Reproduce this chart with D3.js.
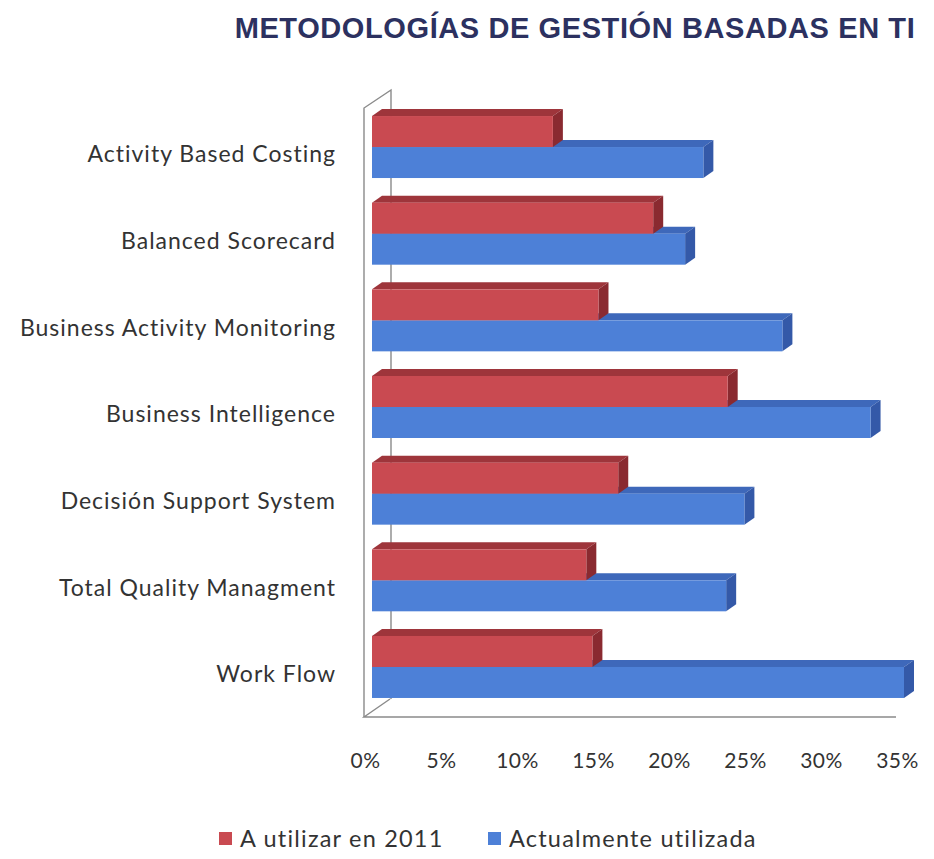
<!DOCTYPE html>
<html>
<head>
<meta charset="utf-8">
<script src="https://cdn.jsdelivr.net/npm/d3@7/dist/d3.min.js"></script>
<style>
  html, body { margin: 0; padding: 0; background: #ffffff; }
  svg { display: block; }
</style>
</head>
<body>
<svg id="chart" width="934" height="859"></svg>
<script>
// Methodology names, top to bottom
const categories = [
  "Activity Based Costing",
  "Balanced Scorecard",
  "Business Activity Monitoring",
  "Business Intelligence",
  "Decisión Support System",
  "Total Quality Managment",
  "Work Flow"
];
// Percent of respondents
const plan2011 = [11.9, 18.5, 14.9, 23.4, 16.2, 14.1, 14.5];
const currentUse = [21.8, 20.6, 27.0, 32.8, 24.5, 23.3, 35.0];
const seriesNames = ["A utilizar en 2011", "Actualmente utilizada"];
const tickValues = [0, 5, 10, 15, 20, 25, 30, 35];

const palette = {
  red:  { front: "#C94A51", top: "#9E353B", side: "#8A2A30" },
  blue: { front: "#4D80D7", top: "#3E68BA", side: "#3459A8" }
};

const svg = d3.select("#chart");

// Layout of the 3D plot box
const floorX = 364, floorY = 717;     // front-left corner of the floor
const barX = 372;                     // bars start a little way into the depth
const wallDX = 27, wallDY = -18;      // full depth of the box
const barDX = 10, barDY = -7;         // depth of each bar
const plotTop = 108;

const x = d3.scaleLinear().domain([0, 35]).range([0, 532]);
const y = d3.scaleBand().domain(categories).range([103.7, 710.3]).padding(0);
const inner = d3.scaleBand().domain(seriesNames).range([-31, 31]).padding(0);

const labelFont = "Lato, 'Open Sans', sans-serif";

// Title
svg.append("text")
  .attr("x", 575).attr("y", 38)
  .attr("text-anchor", "middle")
  .attr("font-family", "'Liberation Sans', Arial, sans-serif")
  .attr("font-weight", "bold")
  .attr("font-size", 29)
  .attr("letter-spacing", 0.6)
  .attr("fill", "#2C3160")
  .text("METODOLOGÍAS DE GESTIÓN BASADAS EN TI");

// Walls and floor edges
const frame = svg.append("g")
  .attr("fill", "none")
  .attr("stroke", "#8a8a8a")
  .attr("stroke-width", 1.4);
frame.append("path").attr("d", d3.line()([
  [floorX, floorY], [floorX, plotTop], [floorX + wallDX, plotTop + wallDY], [floorX + wallDX, floorY + wallDY]
]));
frame.append("path").attr("d", d3.line()([
  [floorX + wallDX - 1, floorY + wallDY], [floorX, floorY], [floorX + x(35), floorY]
]));

// 3D bars: front rectangle, top face and right side face
function drawBar(g, x0, x1, y0, y1, col) {
  g.append("path").attr("fill", col.top).attr("d", d3.line()([
    [x0, y0], [x0 + barDX, y0 + barDY], [x1 + barDX, y0 + barDY], [x1, y0]
  ]) + "Z");
  g.append("path").attr("fill", col.side).attr("d", d3.line()([
    [x1, y0], [x1 + barDX, y0 + barDY], [x1 + barDX, y1 + barDY], [x1, y1]
  ]) + "Z");
  g.append("rect")
    .attr("x", x0).attr("y", y0)
    .attr("width", x1 - x0).attr("height", y1 - y0)
    .attr("fill", col.front);
}

const bars = svg.append("g");
categories.forEach((c, i) => {
  const cy = y(c) + y.bandwidth() / 2;
  const g = bars.append("g");
  // lower (current use) bar first so the upper bar sits on top of it
  const yb = cy + inner(seriesNames[1]);
  drawBar(g, barX, barX + x(currentUse[i]), yb, yb + inner.bandwidth(), palette.blue);
  const yr = cy + inner(seriesNames[0]);
  drawBar(g, barX, barX + x(plan2011[i]), yr, yr + inner.bandwidth(), palette.red);
});

// Category axis
const yAxis = d3.axisLeft(y).tickSize(0).tickPadding(0);
const yG = svg.append("g").attr("transform", "translate(336, 8)").call(yAxis);
yG.select(".domain").remove();
yG.selectAll("text")
  .attr("font-family", labelFont)
  .attr("font-size", 23)
  .attr("letter-spacing", 1.0)
  .attr("fill", "#333333");

// Value axis along the front edge of the floor
const xAxis = d3.axisBottom(x).tickValues(tickValues).tickSize(0).tickPadding(0)
  .tickFormat(d => d + "%");
const xG = svg.append("g").attr("transform", `translate(${floorX + 1}, 753)`).call(xAxis);
xG.select(".domain").remove();
xG.selectAll("text")
  .attr("font-family", labelFont)
  .attr("font-size", 21)
  .attr("letter-spacing", 0.5)
  .attr("fill", "#333333");

// Legend
const legend = svg.append("g").attr("font-family", labelFont)
  .attr("font-size", 23.5).attr("letter-spacing", 1.2).attr("fill", "#333333");
const legendItems = [
  { name: seriesNames[0], col: palette.red.front, x: 219 },
  { name: seriesNames[1], col: palette.blue.front, x: 488 }
];
legendItems.forEach(d => {
  legend.append("rect").attr("x", d.x).attr("y", 832).attr("width", 13).attr("height", 13).attr("fill", d.col);
  legend.append("text").attr("x", d.x + 21).attr("y", 847).text(d.name);
});
</script>
</body>
</html>
